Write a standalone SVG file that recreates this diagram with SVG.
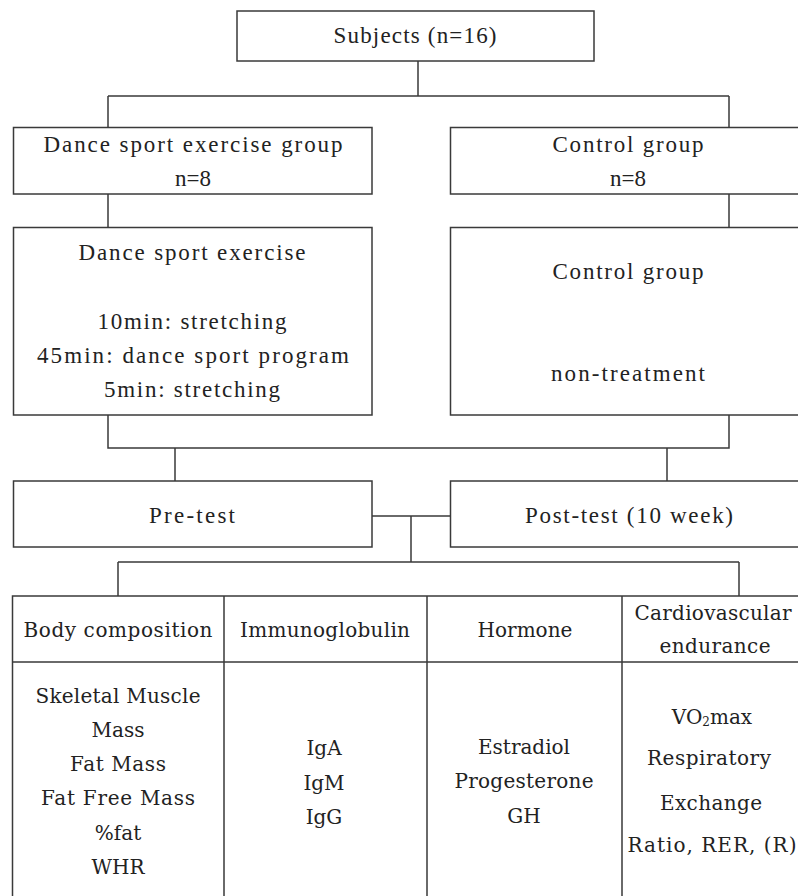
<svg xmlns="http://www.w3.org/2000/svg" width="798" height="896" viewBox="0 0 798 896">
<style>
.bx{fill:#fff;stroke:#3a3a3a;stroke-width:1.5}
.ln{fill:none;stroke:#3a3a3a;stroke-width:1.5}
.t{font-family:"Liberation Serif","Times New Roman",serif;font-size:23px;fill:#222;text-anchor:middle}
.s{font-family:"DejaVu Serif","Liberation Serif",serif;font-size:20px;fill:#222;text-anchor:middle}
</style>
<rect width="798" height="896" fill="#fff"/>
<g id="connectors">
<path class="ln" d="M418,61V96M108,96H729M108,96V127.5M729,96V127.5"/>
<path class="ln" d="M108,194V227.5M729,194V227.5"/>
<path class="ln" d="M108,415V448H729V415M175,448V481M667,448V481"/>
<path class="ln" d="M372,516H450.5M411,516V562M118,562H739M118,562V596M739,562V596"/>
</g>
<g id="subjects">
<rect class="bx" x="237" y="11" width="357" height="50"/>
<text class="t" x="415" y="43" textLength="163" lengthAdjust="spacing">Subjects (n=16)</text>
</g>
<g id="dance-group">
<rect class="bx" x="13.5" y="127.5" width="358.5" height="66.5"/>
<text class="t" x="193" y="152" textLength="299" lengthAdjust="spacing">Dance sport exercise group</text>
<text class="t" x="193" y="186">n=8</text>
</g>
<g id="control-group">
<rect class="bx" x="450.5" y="127.5" width="360" height="66.5"/>
<text class="t" x="628" y="152" textLength="151" lengthAdjust="spacing">Control group</text>
<text class="t" x="628" y="186">n=8</text>
</g>
<g id="dance-exercise">
<rect class="bx" x="13.5" y="227.5" width="358.5" height="187.5"/>
<text class="t" x="192" y="260" textLength="227" lengthAdjust="spacing">Dance sport exercise</text>
<text class="t" x="192" y="329" textLength="189" lengthAdjust="spacing">10min: stretching</text>
<text class="t" x="193" y="363" textLength="312" lengthAdjust="spacing">45min: dance sport program</text>
<text class="t" x="192" y="397" textLength="176" lengthAdjust="spacing">5min: stretching</text>
</g>
<g id="control-treatment">
<rect class="bx" x="450.5" y="227.5" width="360" height="187.5"/>
<text class="t" x="628" y="279" textLength="151" lengthAdjust="spacing">Control group</text>
<text class="t" x="628" y="381" textLength="154" lengthAdjust="spacing">non-treatment</text>
</g>
<g id="pre-test">
<rect class="bx" x="13.5" y="481" width="358.5" height="66"/>
<text class="t" x="192" y="523" textLength="86" lengthAdjust="spacing">Pre-test</text>
</g>
<g id="post-test">
<rect class="bx" x="450.5" y="481" width="360" height="66"/>
<text class="t" x="629" y="523" textLength="208" lengthAdjust="spacing">Post-test (10 week)</text>
</g>
<g id="measures-table">
<rect class="bx" x="12.5" y="596" width="800" height="320"/>
<path class="ln" d="M12.5,662H812M224,596V900M427,596V900M622,596V900"/>
</g>
<g id="body-composition">
<text class="s" x="118" y="637" textLength="189" lengthAdjust="spacing">Body composition</text>
<text class="s" x="118" y="703" textLength="165" lengthAdjust="spacing">Skeletal Muscle</text>
<text class="s" x="118" y="737">Mass</text>
<text class="s" x="118" y="771" textLength="96" lengthAdjust="spacing">Fat Mass</text>
<text class="s" x="118" y="805" textLength="154" lengthAdjust="spacing">Fat Free Mass</text>
<text class="s" x="118" y="840">%fat</text>
<text class="s" x="118" y="874">WHR</text>
</g>
<g id="immunoglobulin">
<text class="s" x="325" y="637" textLength="170" lengthAdjust="spacing">Immunoglobulin</text>
<text class="s" x="324" y="755">IgA</text>
<text class="s" x="324" y="790">IgM</text>
<text class="s" x="324" y="824">IgG</text>
</g>
<g id="hormone">
<text class="s" x="525" y="637">Hormone</text>
<text class="s" x="524" y="754">Estradiol</text>
<text class="s" x="524" y="788" textLength="139" lengthAdjust="spacing">Progesterone</text>
<text class="s" x="524" y="823">GH</text>
</g>
<g id="cardiovascular">
<text class="s" x="713" y="620" textLength="157" lengthAdjust="spacing">Cardiovascular</text>
<text class="s" x="715" y="653" textLength="111" lengthAdjust="spacing">endurance</text>
<text class="s" x="712" y="724">VO<tspan font-size="12" dy="2">2</tspan><tspan dy="-2">max</tspan></text>
<text class="s" x="709" y="765" textLength="124" lengthAdjust="spacing">Respiratory</text>
<text class="s" x="711" y="810" textLength="102" lengthAdjust="spacing">Exchange</text>
<text class="s" x="712" y="852" textLength="169" lengthAdjust="spacing">Ratio, RER, (R)</text>
</g>
</svg>
